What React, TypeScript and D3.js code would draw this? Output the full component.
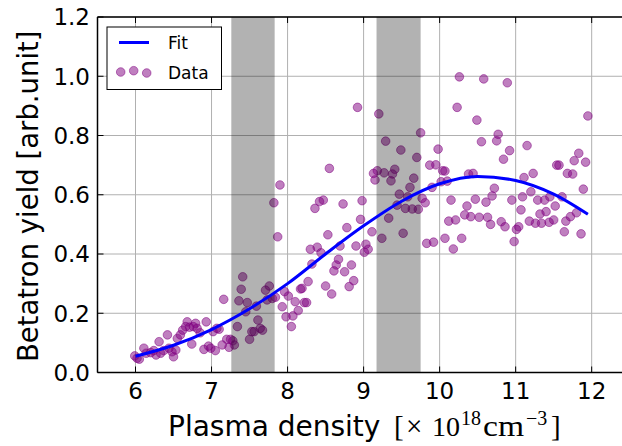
import React from 'react';
import * as d3 from 'd3';

const xTicks = [6, 7, 8, 9, 10, 11, 12];
const yTicks = [0.0, 0.2, 0.4, 0.6, 0.8, 1.0, 1.2];
const bandStarts = [7.26, 9.17];
const bandEnds = [7.83, 9.75];

const fitX = [6.0, 6.5, 7.0, 7.5, 8.0, 8.5, 9.0, 9.5, 10.0, 10.5, 11.0, 11.5, 11.95];
const fitY = [0.055, 0.092, 0.145, 0.215, 0.3, 0.4, 0.495, 0.578, 0.637, 0.662, 0.648, 0.602, 0.534];

const dataX = [
  5.99, 6.02, 6.05, 6.11, 6.14, 6.2, 6.24, 6.27, 6.31, 6.33,
  6.37, 6.42, 6.44, 6.48, 6.5, 6.53, 6.55, 6.59, 6.62, 6.66,
  6.68, 6.71, 6.74, 6.76, 6.79, 6.81, 6.85, 6.9, 6.93, 6.96,
  6.99, 7.02, 7.05, 7.07, 7.1, 7.14, 7.16, 7.2, 7.23, 7.25,
  7.28, 7.3, 7.34, 7.36, 7.39, 7.41, 7.45, 7.47, 7.5, 7.53,
  7.56, 7.59, 7.61, 7.64, 7.67, 7.71, 7.73, 7.76, 7.8, 7.84,
  7.87, 7.93, 7.96, 7.98, 8.01, 8.05, 8.07, 7.9, 7.82,
  8.92, 8.55, 8.98, 8.73, 8.47, 8.42, 8.36, 8.96, 8.78, 8.53,
  8.69, 8.9, 9.03, 9.06, 9.01, 8.39, 8.3, 8.44, 8.32, 8.67,
  8.64, 8.84, 8.61, 8.75, 8.87, 8.81, 8.27, 8.17, 8.5, 8.58,
  8.1, 8.22, 8.14, 8.19, 8.25,
  9.2, 9.75, 9.29, 9.49, 9.98, 9.7, 9.87, 9.95, 10.04, 9.41,
  9.18, 9.27, 9.38, 9.13, 9.15, 9.36, 9.66, 9.61, 10.02, 9.9,
  9.47, 9.58, 9.77, 9.81, 9.44, 9.55, 9.64, 9.72, 9.33, 9.11,
  9.24, 9.52, 9.83, 9.92,
  10.26, 10.58, 10.89, 10.23, 10.49, 10.77, 10.75, 10.55, 11.15, 10.92,
  10.84, 10.07, 10.1, 10.38, 10.44, 11.11, 10.72, 10.69, 10.15, 10.47,
  10.61, 10.95, 11.09, 10.36, 11.07, 10.33, 10.41, 10.52, 10.63, 10.67,
  10.81, 10.86, 10.12, 10.21, 11.01, 11.04, 10.07, 10.29, 10.98, 10.18,
  11.95, 11.83, 11.77, 11.92, 11.54, 11.57, 11.68, 11.75, 11.23, 11.89,
  11.2, 11.45, 11.61, 11.29, 11.38, 11.52, 11.4, 11.32, 11.8, 11.72,
  11.66, 11.5, 11.44, 11.34, 11.26, 11.18, 11.64, 11.86,
];

const dataY = [
  0.056, 0.048, 0.045, 0.082, 0.065, 0.067, 0.074, 0.059, 0.104, 0.065,
  0.074, 0.127, 0.082, 0.07, 0.053, 0.076, 0.115, 0.127, 0.143, 0.155,
  0.171, 0.153, 0.096, 0.155, 0.166, 0.149, 0.134, 0.078, 0.171, 0.089,
  0.082, 0.138, 0.074, 0.149, 0.146, 0.093, 0.247, 0.112, 0.085, 0.112,
  0.107, 0.093, 0.155, 0.242, 0.281, 0.323, 0.205, 0.236, 0.112, 0.138,
  0.138, 0.224, 0.177, 0.149, 0.143, 0.278, 0.245, 0.292, 0.25, 0.254,
  0.458, 0.222, 0.273, 0.188, 0.258, 0.155, 0.191, 0.633, 0.573,
  0.895, 0.689, 0.58, 0.569, 0.582, 0.577, 0.554, 0.517, 0.489, 0.465,
  0.427, 0.427, 0.433, 0.416, 0.406, 0.423, 0.416, 0.404, 0.366, 0.382,
  0.363, 0.363, 0.343, 0.34, 0.31, 0.29, 0.307, 0.282, 0.292, 0.265,
  0.239, 0.236, 0.209, 0.284, 0.236,
  0.873, 0.809, 0.781, 0.751, 0.754, 0.726, 0.7, 0.701, 0.681, 0.686,
  0.681, 0.674, 0.67, 0.672, 0.65, 0.647, 0.656, 0.625, 0.644, 0.625,
  0.602, 0.593, 0.588, 0.573, 0.565, 0.554, 0.552, 0.551, 0.521, 0.475,
  0.453, 0.47, 0.436, 0.44,
  0.998, 0.991, 0.978, 0.895, 0.852, 0.804, 0.782, 0.779, 0.766, 0.749,
  0.72, 0.68, 0.646, 0.67, 0.672, 0.658, 0.622, 0.596, 0.582, 0.585,
  0.575, 0.582, 0.593, 0.562, 0.549, 0.532, 0.526, 0.524, 0.524, 0.5,
  0.509, 0.492, 0.511, 0.515, 0.483, 0.492, 0.453, 0.453, 0.442, 0.417,
  0.866, 0.74, 0.715, 0.71, 0.7, 0.7, 0.672, 0.67, 0.672, 0.619,
  0.61, 0.593, 0.593, 0.582, 0.582, 0.562, 0.543, 0.535, 0.539, 0.526,
  0.511, 0.515, 0.507, 0.504, 0.504, 0.511, 0.475, 0.468,
];

const legendLabels = ['Fit', 'Data'];

export default function App() {
  const W = 622;
  const H = 446;
  const left = 97.5;
  const right = 629.7;
  const top = 17;
  const bottom = 372.5;
  const x = d3.scaleLinear().domain([5.5, 12.5]).range([left, right]);
  const y = d3.scaleLinear().domain([0, 1.2]).range([bottom, top]);

  const fitPath = d3
    .line<number>()
    .x((_, i) => x(fitX[i]))
    .y((d) => y(d))
    .curve(d3.curveMonotoneX)(fitY) || '';

  const purple = '#800080';
  const sans = "'DejaVu Sans', sans-serif";
  const serif = "'Liberation Serif', 'DejaVu Serif', serif";
  const base = 435.5;
  const sup = 424.5;

  return (
    <div style={{ position: 'fixed', left: 0, top: 0 }}>
      <svg width={W} height={H} style={{ display: 'block', background: '#fff' }}>
        <defs>
          <clipPath id="plotclip">
            <rect x={left} y={top} width={right - left} height={bottom - top} />
          </clipPath>
        </defs>
        <rect x={0} y={0} width={W} height={H} fill="#fff" />
        {/* grid */}
        <g stroke="#b0b0b0" strokeWidth={1}>
          {xTicks.map((t) => (
            <line key={'gx' + t} x1={x(t)} x2={x(t)} y1={top} y2={bottom} />
          ))}
          {yTicks.map((t) => (
            <line key={'gy' + t} x1={left} x2={right} y1={y(t)} y2={y(t)} />
          ))}
        </g>
        {/* points */}
        <g clipPath="url(#plotclip)">
          {dataX.map((dx, i) => (
            <circle
              key={'p' + i}
              cx={x(dx)}
              cy={y(dataY[i])}
              r={4.3}
              fill={purple}
              fillOpacity={0.5}
              stroke={purple}
              strokeOpacity={0.5}
              strokeWidth={1}
            />
          ))}
        </g>
        {/* bands */}
        <g>
          {bandStarts.map((b, i) => (
            <rect
              key={'b' + i}
              x={x(b)}
              y={top}
              width={x(bandEnds[i]) - x(b)}
              height={bottom - top}
              fill="#000"
              fillOpacity={0.3}
            />
          ))}
        </g>
        {/* fit */}
        <path d={fitPath} fill="none" stroke="#0000ff" strokeWidth={3} clipPath="url(#plotclip)" />
        {/* frame */}
        <g stroke="#000" strokeWidth={1.5} fill="none">
          <line x1={left} x2={left} y1={top} y2={bottom} />
          <line x1={left} x2={right} y1={top} y2={top} />
          <line x1={left} x2={right} y1={bottom} y2={bottom} />
          <line x1={right} x2={right} y1={top} y2={bottom} />
        </g>
        {/* ticks */}
        <g stroke="#000" strokeWidth={1}>
          {xTicks.map((t) => (
            <g key={'tx' + t}>
              <line x1={x(t)} x2={x(t)} y1={bottom} y2={bottom - 6} />
              <line x1={x(t)} x2={x(t)} y1={top} y2={top + 6} />
            </g>
          ))}
          {yTicks.map((t) => (
            <g key={'ty' + t}>
              <line x1={left} x2={left + 6} y1={y(t)} y2={y(t)} />
            </g>
          ))}
        </g>
        {/* tick labels */}
        <g fontFamily={sans} fontSize={23} fill="#000">
          {xTicks.map((t) => (
            <text key={'lx' + t} x={x(t)} y={399} textAnchor="middle">
              {String(t)}
            </text>
          ))}
          {yTicks.map((t) => (
            <text key={'ly' + t} x={90} y={y(t) + 8.3} textAnchor="end">
              {t.toFixed(1)}
            </text>
          ))}
        </g>
        {/* axis labels */}
        <text
          transform={`translate(37.5,${(top + bottom) / 2 + 1.5}) rotate(-90)`}
          textAnchor="middle"
          fontFamily={sans}
          fontSize={27.5}
          fill="#000"
        >
          Betatron yield [arb.unit]
        </text>
        <text x={168} y={base} fontSize={28} fontFamily={sans} fill="#000">
          Plasma density
        </text>
        <g fontFamily={serif} fill="#000">
          <text x={394} y={base} fontSize={29}>[</text>
          <text x={406} y={base} fontSize={29}>×</text>
          <text x={432} y={base} fontSize={28}>10</text>
          <text x={461} y={sup} fontSize={20}>18</text>
          <text x={483} y={base} fontSize={29} textLength={41} lengthAdjust="spacingAndGlyphs">cm</text>
          <text x={526} y={sup} fontSize={20}>−3</text>
          <text x={551} y={base} fontSize={29}>]</text>
        </g>
        {/* legend */}
        <g>
          <rect x={107} y={27} width={114.5} height={62.5} fill="#fff" stroke="#000" strokeWidth={1} />
          <line x1={119} x2={149} y1={42.5} y2={42.5} stroke="#0000ff" strokeWidth={3} />
          {[
            [120.7, 72],
            [133.7, 70.7],
            [146.7, 73],
          ].map(([cx, cy], i) => (
            <circle
              key={'lg' + i}
              cx={cx}
              cy={cy}
              r={4.3}
              fill={purple}
              fillOpacity={0.5}
              stroke={purple}
              strokeOpacity={0.5}
              strokeWidth={1}
            />
          ))}
          <text x={168} y={49} fontFamily={sans} fontSize={17} fill="#000">
            {legendLabels[0]}
          </text>
          <text x={168} y={78.5} fontFamily={sans} fontSize={17} fill="#000">
            {legendLabels[1]}
          </text>
        </g>
      </svg>
    </div>
  );
}
